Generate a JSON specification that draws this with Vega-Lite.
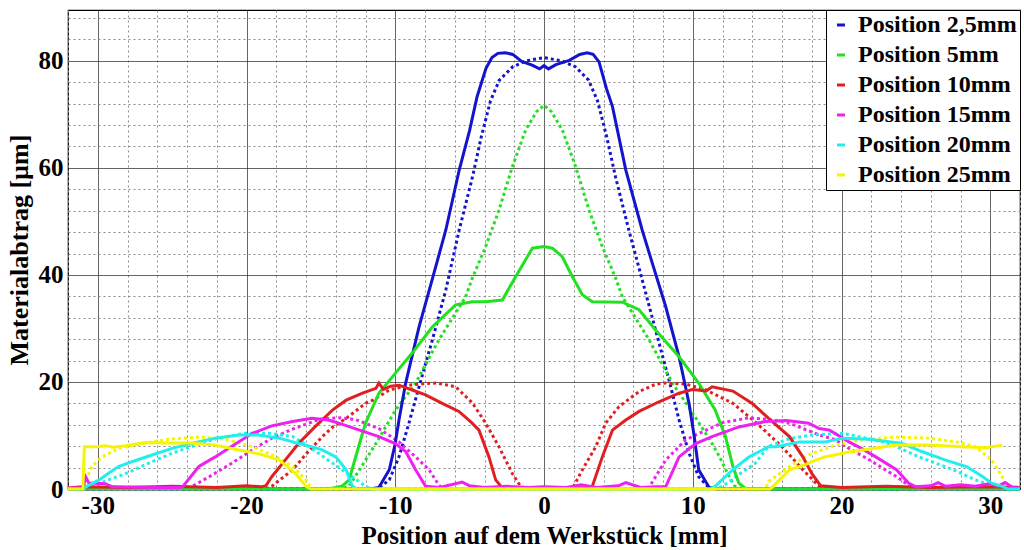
{
"$schema": "https://vega.github.io/schema/vega-lite/v6.json",
"width": 952, "height": 479,
"autosize": "none",
"padding": {"left": 68, "top": 10, "right": 4, "bottom": 61},
"background": "white",
"config": {"view": {"stroke": "#000", "strokeWidth": 1.2}, "font": "Liberation Serif"},
"datasets": {
"B_M": [{"x":-32,"y":0},{"x":-11.7,"y":0},{"x":-11.1,"y":0.3},{"x":-10.4,"y":3.6},{"x":-10,"y":8.5},{"x":-9.75,"y":12.9},{"x":-9.3,"y":19.8},{"x":-8.4,"y":30.3},{"x":-7.5,"y":39.3},{"x":-6.6,"y":48.4},{"x":-5.7,"y":59.6},{"x":-5,"y":67},{"x":-4.5,"y":73.3},{"x":-3.9,"y":78.6},{"x":-3.5,"y":80.6},{"x":-3.1,"y":81.4},{"x":-2.6,"y":81.5},{"x":-2.1,"y":81.2},{"x":-1.5,"y":79.9},{"x":-0.8,"y":79.2},{"x":-0.3,"y":78.5},{"x":0,"y":79.1},{"x":0.3,"y":78.5},{"x":0.8,"y":79.3},{"x":1.7,"y":80.1},{"x":2.4,"y":81.2},{"x":2.9,"y":81.5},{"x":3.3,"y":81.2},{"x":3.7,"y":79.8},{"x":4.2,"y":74.8},{"x":4.6,"y":71.5},{"x":5.5,"y":59.6},{"x":6.6,"y":48.4},{"x":7.28,"y":42.2},{"x":8.18,"y":34.1},{"x":9.08,"y":24.7},{"x":9.75,"y":16},{"x":10.1,"y":9.8},{"x":10.4,"y":3.6},{"x":11.1,"y":0.3},{"x":11.6,"y":0},{"x":32,"y":0}],
"B_S": [{"x":-32,"y":0},{"x":-11.4,"y":0},{"x":-11.1,"y":0.2},{"x":-10.4,"y":1.7},{"x":-9.75,"y":6},{"x":-9.08,"y":12.3},{"x":-8.4,"y":19.1},{"x":-7.5,"y":27.9},{"x":-6.6,"y":37.2},{"x":-5.7,"y":48.4},{"x":-4.8,"y":58.4},{"x":-4.2,"y":66},{"x":-3.6,"y":72.5},{"x":-3,"y":76.4},{"x":-2.1,"y":78.9},{"x":-1.2,"y":80},{"x":0,"y":80.6},{"x":1.2,"y":80},{"x":2.1,"y":78.9},{"x":3,"y":76.4},{"x":3.6,"y":72.5},{"x":4.2,"y":66},{"x":4.8,"y":58.4},{"x":5.7,"y":48.4},{"x":6.6,"y":39.1},{"x":7.5,"y":29.7},{"x":8.4,"y":20.4},{"x":9.08,"y":12.9},{"x":9.75,"y":6.7},{"x":10.4,"y":2.3},{"x":11.1,"y":0.2},{"x":11.4,"y":0},{"x":32,"y":0}],
"G_M": [{"x":-32,"y":0},{"x":-14.5,"y":0},{"x":-13.6,"y":0.5},{"x":-13.1,"y":1.7},{"x":-12.4,"y":8.5},{"x":-12,"y":12.3},{"x":-11.1,"y":17.9},{"x":-10,"y":21.6},{"x":-8.86,"y":25.4},{"x":-7.5,"y":30.3},{"x":-5.94,"y":34.4},{"x":-4.82,"y":35},{"x":-3.92,"y":35},{"x":-2.8,"y":35.3},{"x":-1.9,"y":39.7},{"x":-0.78,"y":45},{"x":0,"y":45.3},{"x":0.56,"y":45},{"x":1.23,"y":43.4},{"x":1.9,"y":39.7},{"x":2.58,"y":36.3},{"x":3.25,"y":35},{"x":5.27,"y":34.9},{"x":6.39,"y":33.5},{"x":7.5,"y":29.7},{"x":9.08,"y":24.7},{"x":10.4,"y":19.8},{"x":11.5,"y":14.8},{"x":12.2,"y":9.8},{"x":12.7,"y":4.2},{"x":13.1,"y":1.1},{"x":13.6,"y":0},{"x":32,"y":0}],
"G_S": [{"x":-32,"y":0},{"x":-13.6,"y":0},{"x":-13.1,"y":0.6},{"x":-12.4,"y":3.6},{"x":-11.3,"y":8.5},{"x":-9.97,"y":14.8},{"x":-8.63,"y":19.8},{"x":-7.06,"y":27.9},{"x":-5.27,"y":35.9},{"x":-4.82,"y":39.4},{"x":-3.92,"y":45.3},{"x":-3.03,"y":52.1},{"x":-2.13,"y":60.2},{"x":-1.23,"y":67.1},{"x":-0.5,"y":70.5},{"x":0,"y":71.7},{"x":0.5,"y":70.5},{"x":1.23,"y":67.1},{"x":2.13,"y":60.2},{"x":3.03,"y":52.1},{"x":3.92,"y":45.3},{"x":4.82,"y":39.4},{"x":5.27,"y":35.9},{"x":7.06,"y":27.9},{"x":8.63,"y":19.8},{"x":9.97,"y":14.3},{"x":11.3,"y":8.5},{"x":11.8,"y":6},{"x":12.4,"y":2.6},{"x":12.8,"y":0.6},{"x":13.3,"y":0},{"x":32,"y":0}],
"R_M": [{"x":-32,"y":0.2},{"x":-31,"y":0.4},{"x":-28,"y":0.3},{"x":-25,"y":0.5},{"x":-22,"y":0.3},{"x":-20,"y":0.6},{"x":-19,"y":0.4},{"x":-18.7,"y":0.6},{"x":-18.3,"y":2.3},{"x":-17.4,"y":5.4},{"x":-16.5,"y":8.5},{"x":-15.4,"y":11.6},{"x":-14.2,"y":14.8},{"x":-13.3,"y":16.6},{"x":-12.2,"y":17.9},{"x":-11.3,"y":18.8},{"x":-11.1,"y":19.8},{"x":-10.8,"y":18.6},{"x":-10.3,"y":19.2},{"x":-9.75,"y":19.4},{"x":-8.86,"y":18.5},{"x":-7.96,"y":17.6},{"x":-6.84,"y":16},{"x":-5.72,"y":14.5},{"x":-4.9,"y":12.5},{"x":-4.37,"y":11},{"x":-3.7,"y":6},{"x":-3.25,"y":1.7},{"x":-2.8,"y":0.2},{"x":-2,"y":0.3},{"x":0,"y":0.2},{"x":2,"y":0.3},{"x":2.8,"y":0.2},{"x":3.25,"y":0.5},{"x":3.92,"y":6},{"x":4.6,"y":11},{"x":5.5,"y":12.9},{"x":6.39,"y":14.5},{"x":7.73,"y":16.3},{"x":9.08,"y":17.9},{"x":9.97,"y":18.6},{"x":10.9,"y":18.3},{"x":11.3,"y":19.1},{"x":12.7,"y":18.3},{"x":14,"y":16},{"x":15.1,"y":13.2},{"x":16.5,"y":9.8},{"x":17.4,"y":6},{"x":18,"y":2.9},{"x":18.6,"y":0.6},{"x":20,"y":0.3},{"x":23,"y":0.5},{"x":26,"y":0.3},{"x":29,"y":0.4},{"x":32,"y":0.3}],
"R_S": [{"x":-32,"y":0},{"x":-18.7,"y":0},{"x":-18.3,"y":0.5},{"x":-16.9,"y":3.6},{"x":-16,"y":6.5},{"x":-14.9,"y":9.8},{"x":-14.2,"y":11.6},{"x":-13.3,"y":13.2},{"x":-12,"y":16},{"x":-11.5,"y":16.6},{"x":-10.4,"y":18.5},{"x":-9.08,"y":19.4},{"x":-7.96,"y":19.7},{"x":-7.2,"y":19.8},{"x":-5.94,"y":19.1},{"x":-4.82,"y":16.1},{"x":-3.92,"y":12.3},{"x":-3.03,"y":7.9},{"x":-2.13,"y":2.9},{"x":-1.46,"y":0},{"x":1.9,"y":0},{"x":2.58,"y":3.6},{"x":3.48,"y":7.9},{"x":4.15,"y":12.3},{"x":5.04,"y":15.4},{"x":6.39,"y":18.2},{"x":7.5,"y":19.6},{"x":8.18,"y":19.8},{"x":9.53,"y":19.6},{"x":10.9,"y":18.5},{"x":12.7,"y":16},{"x":14.3,"y":12.3},{"x":16,"y":7.9},{"x":17.4,"y":3.6},{"x":18.5,"y":0.5},{"x":19,"y":0},{"x":32,"y":0}],
"M_M": [{"x":-32,"y":0.2},{"x":-31,"y":0.2},{"x":-30.8,"y":2.2},{"x":-30.6,"y":1.1},{"x":-29.5,"y":1},{"x":-29,"y":0.4},{"x":-26,"y":0.3},{"x":-24.5,"y":0.3},{"x":-24.3,"y":0.4},{"x":-23.2,"y":4.2},{"x":-22.1,"y":6},{"x":-20.7,"y":8.5},{"x":-19.6,"y":10.4},{"x":-18.3,"y":11.8},{"x":-16.9,"y":12.6},{"x":-15.6,"y":13.2},{"x":-14.5,"y":12.9},{"x":-13.8,"y":12.3},{"x":-12.4,"y":11},{"x":-11.1,"y":9.8},{"x":-10,"y":8.5},{"x":-9.3,"y":7},{"x":-8.63,"y":3.6},{"x":-7.96,"y":0.5},{"x":-7,"y":0.3},{"x":-5.5,"y":1.3},{"x":-5,"y":0.6},{"x":-4,"y":0.3},{"x":-2.5,"y":0.5},{"x":-1,"y":0.3},{"x":0,"y":0.4},{"x":1.5,"y":0.3},{"x":2.5,"y":0.8},{"x":3.5,"y":0.3},{"x":5,"y":0.6},{"x":5.5,"y":1.2},{"x":6.5,"y":0.3},{"x":7.5,"y":0.4},{"x":8.18,"y":0.4},{"x":9.08,"y":6},{"x":10.2,"y":8.5},{"x":11.3,"y":9.8},{"x":13.1,"y":11.6},{"x":14.9,"y":12.6},{"x":16.3,"y":12.8},{"x":17.8,"y":12.3},{"x":18.5,"y":11.3},{"x":19.2,"y":11},{"x":20.5,"y":8.8},{"x":21.4,"y":7.5},{"x":22.3,"y":6},{"x":23.7,"y":3.6},{"x":24.5,"y":1.1},{"x":25,"y":0.4},{"x":26,"y":0.6},{"x":26.5,"y":1.2},{"x":27,"y":0.5},{"x":28,"y":0.8},{"x":29,"y":0.5},{"x":30,"y":1},{"x":30.5,"y":0.5},{"x":31,"y":1.2},{"x":31.5,"y":0.3},{"x":32,"y":0.2}],
"M_S": [{"x":-32,"y":0},{"x":-24,"y":0},{"x":-23.7,"y":0.4},{"x":-22.5,"y":2.3},{"x":-21,"y":4.8},{"x":-19.6,"y":7.3},{"x":-18.3,"y":9.5},{"x":-16.9,"y":11.2},{"x":-15.1,"y":13},{"x":-13.8,"y":13.3},{"x":-12.7,"y":13},{"x":-11.1,"y":11.3},{"x":-9.75,"y":8.8},{"x":-8.63,"y":6},{"x":-7.73,"y":3.6},{"x":-7.06,"y":0.7},{"x":-6.8,"y":0},{"x":6.9,"y":0},{"x":7.06,"y":0.3},{"x":8.18,"y":5.4},{"x":9.53,"y":9.2},{"x":10.9,"y":11},{"x":12,"y":12.4},{"x":13.8,"y":13.3},{"x":15.1,"y":13},{"x":16.5,"y":12.3},{"x":18.5,"y":10.1},{"x":19.6,"y":9.2},{"x":20.3,"y":7.9},{"x":21.9,"y":5.4},{"x":23.7,"y":2.3},{"x":24.7,"y":0.3},{"x":25,"y":0},{"x":32,"y":0}],
"C_M": [{"x":-32,"y":0},{"x":-31,"y":0},{"x":-30.8,"y":0.4},{"x":-29.9,"y":1.7},{"x":-29.3,"y":2.9},{"x":-28.6,"y":4.2},{"x":-27.7,"y":5.1},{"x":-26.3,"y":6.4},{"x":-25,"y":7.6},{"x":-23.7,"y":8.5},{"x":-22.1,"y":9.5},{"x":-20.5,"y":10.1},{"x":-19.2,"y":10.1},{"x":-17.8,"y":9.5},{"x":-16.5,"y":8.5},{"x":-16,"y":8.2},{"x":-14.9,"y":7.3},{"x":-14,"y":6},{"x":-13.3,"y":3.6},{"x":-12.9,"y":0.6},{"x":-12.6,"y":0},{"x":11.2,"y":0},{"x":11.5,"y":0.5},{"x":12.7,"y":3.6},{"x":13.8,"y":6},{"x":15.1,"y":7.9},{"x":15.6,"y":7.9},{"x":17.2,"y":8.8},{"x":18.9,"y":8.8},{"x":20.1,"y":9.5},{"x":21.9,"y":9.3},{"x":24.1,"y":8.5},{"x":25.4,"y":7},{"x":27,"y":5.4},{"x":28.4,"y":4.2},{"x":29.5,"y":2.3},{"x":30.1,"y":1.1},{"x":30.8,"y":0.5},{"x":31.2,"y":0},{"x":32,"y":0}],
"C_S": [{"x":-32,"y":0},{"x":-30.8,"y":0},{"x":-30.4,"y":0.4},{"x":-29.3,"y":1.7},{"x":-28.1,"y":2.9},{"x":-26.6,"y":4.8},{"x":-25,"y":6.7},{"x":-23.4,"y":8.2},{"x":-21.9,"y":9.5},{"x":-20.1,"y":10.4},{"x":-18.5,"y":10.4},{"x":-16.9,"y":9.8},{"x":-16,"y":8.3},{"x":-14.2,"y":4.8},{"x":-12.9,"y":2.3},{"x":-12,"y":0.5},{"x":-11.6,"y":0},{"x":11.6,"y":0},{"x":12,"y":0.5},{"x":12.9,"y":2.3},{"x":14.2,"y":4.8},{"x":15.1,"y":8},{"x":16.5,"y":9.4},{"x":18,"y":10.1},{"x":20.1,"y":10.4},{"x":21.5,"y":9.6},{"x":23.2,"y":8.5},{"x":25.2,"y":6},{"x":27.5,"y":3.6},{"x":29,"y":1.7},{"x":30.4,"y":0.4},{"x":30.8,"y":0},{"x":32,"y":0}],
"Y_M": [{"x":-32,"y":0},{"x":-31,"y":0},{"x":-30.9,"y":7.9},{"x":-30,"y":7.9},{"x":-29.5,"y":8.1},{"x":-29,"y":7.8},{"x":-28.1,"y":8.1},{"x":-26.8,"y":8.7},{"x":-25.2,"y":8.6},{"x":-23.7,"y":8.6},{"x":-22.1,"y":8.2},{"x":-20.5,"y":7.3},{"x":-19.2,"y":6.6},{"x":-17.8,"y":5.4},{"x":-17.4,"y":4.5},{"x":-16.7,"y":2.9},{"x":-16,"y":0.5},{"x":-15.7,"y":0},{"x":15.2,"y":0},{"x":15.4,"y":0.5},{"x":16.5,"y":3.6},{"x":17.6,"y":4.6},{"x":18,"y":5.1},{"x":18.9,"y":6},{"x":19.6,"y":6.4},{"x":20.5,"y":6.9},{"x":21.4,"y":7.3},{"x":23.7,"y":8.2},{"x":25.9,"y":8.2},{"x":28.1,"y":7.9},{"x":29.7,"y":7.7},{"x":30.8,"y":8.2}],
"Y_S": [{"x":-32,"y":0},{"x":-31,"y":0},{"x":-30.8,"y":1.7},{"x":-30.4,"y":4.2},{"x":-29.7,"y":6},{"x":-28.6,"y":7.6},{"x":-27,"y":8.5},{"x":-25.2,"y":9.3},{"x":-23.2,"y":9.7},{"x":-21.4,"y":9.3},{"x":-19.6,"y":7.9},{"x":-18,"y":6},{"x":-16.9,"y":4.2},{"x":-16,"y":1.7},{"x":-15.6,"y":0},{"x":14.9,"y":0},{"x":15.1,"y":1.4},{"x":16.5,"y":4.2},{"x":17.8,"y":6.4},{"x":19.6,"y":8.2},{"x":21.4,"y":9.2},{"x":23.7,"y":9.7},{"x":25.9,"y":9.5},{"x":27.7,"y":8.8},{"x":29,"y":7.9},{"x":30.1,"y":5.4},{"x":30.8,"y":2.3},{"x":31,"y":0.5},{"x":31.2,"y":0},{"x":32,"y":0}]
},
"encoding": {
  "x": {"field": "x", "type": "quantitative", "scale": {"domain": [-32, 32], "nice": false, "zero": false},
    "axis": {"values": [-32,-30,-28,-26,-24,-22,-20,-18,-16,-14,-12,-10,-8,-6,-4,-2,0,2,4,6,8,10,12,14,16,18,20,22,24,26,28,30,32],
      "labelExpr": "datum.value % 10 === 0 ? '' + datum.value : ''", "labelOverlap": false, "labelFlush": false,
      "labelFont": "Liberation Serif", "labelFontSize": 25, "labelFontWeight": "bold", "labelColor": "#000", "labelPadding": 4,
      "ticks": false, "domain": false,
      "grid": true,
      "gridColor": {"condition": {"test": "datum.value % 10 === 0", "value": "#333333"}, "value": "#8a8a8a"},
      "gridDash": {"condition": {"test": "datum.value % 10 === 0", "value": [1, 0]}, "value": [2, 3]},
      "gridWidth": 1, "gridOpacity": 1,
      "title": "Position auf dem Werkstück [mm]", "titleFont": "Liberation Serif", "titleFontSize": 25, "titleFontWeight": "bold", "titleColor": "#000", "titlePadding": 5}},
  "y": {"field": "y", "type": "quantitative", "scale": {"domain": [0, 89.5], "nice": false},
    "axis": {"values": [0,4,8,12,16,20,24,28,32,36,40,44,48,52,56,60,64,68,72,76,80,84,88],
      "labelExpr": "datum.value % 20 === 0 ? '' + datum.value : ''", "labelOverlap": false, "labelFlush": false,
      "labelFont": "Liberation Serif", "labelFontSize": 25, "labelFontWeight": "bold", "labelColor": "#000", "labelPadding": 5,
      "ticks": false, "domain": false,
      "grid": true,
      "gridColor": {"condition": {"test": "datum.value % 20 === 0", "value": "#333333"}, "value": "#8a8a8a"},
      "gridDash": {"condition": {"test": "datum.value % 20 === 0", "value": [1, 0]}, "value": [2, 3]},
      "gridWidth": 1, "gridOpacity": 1,
      "title": "Materialabtrag [µm]", "titleFont": "Liberation Serif", "titleFontSize": 26, "titleFontWeight": "bold", "titleColor": "#000", "titlePadding": 6}}
},
"layer": [
{"data": {"name": "B_S"}, "mark": {"type": "line", "strokeWidth": 3, "strokeDash": [3, 3]}, "encoding": {"color": {"datum": "Position 2,5mm"}}},
{"data": {"name": "G_S"}, "mark": {"type": "line", "strokeWidth": 3, "strokeDash": [3, 3]}, "encoding": {"color": {"datum": "Position 5mm"}}},
{"data": {"name": "R_S"}, "mark": {"type": "line", "strokeWidth": 3, "strokeDash": [3, 3]}, "encoding": {"color": {"datum": "Position 10mm"}}},
{"data": {"name": "M_S"}, "mark": {"type": "line", "strokeWidth": 3, "strokeDash": [3, 3]}, "encoding": {"color": {"datum": "Position 15mm"}}},
{"data": {"name": "C_S"}, "mark": {"type": "line", "strokeWidth": 3, "strokeDash": [3, 3]}, "encoding": {"color": {"datum": "Position 20mm"}}},
{"data": {"name": "Y_S"}, "mark": {"type": "line", "strokeWidth": 3, "strokeDash": [3, 3]}, "encoding": {"color": {"datum": "Position 25mm"}}},
{"data": {"name": "B_M"}, "mark": {"type": "line", "strokeWidth": 3}, "encoding": {"color": {"datum": "Position 2,5mm"}}},
{"data": {"name": "G_M"}, "mark": {"type": "line", "strokeWidth": 3}, "encoding": {"color": {"datum": "Position 5mm"}}},
{"data": {"name": "R_M"}, "mark": {"type": "line", "strokeWidth": 3}, "encoding": {"color": {"datum": "Position 10mm"}}},
{"data": {"name": "M_M"}, "mark": {"type": "line", "strokeWidth": 3}, "encoding": {"color": {"datum": "Position 15mm"}}},
{"data": {"name": "C_M"}, "mark": {"type": "line", "strokeWidth": 3}, "encoding": {"color": {"datum": "Position 20mm"}}},
{"data": {"name": "Y_M"}, "mark": {"type": "line", "strokeWidth": 3}, "encoding": {"color": {"datum": "Position 25mm",
  "scale": {"domain": ["Position 2,5mm","Position 5mm","Position 10mm","Position 15mm","Position 20mm","Position 25mm"],
            "range": ["#1414cc","#22e022","#e02020","#ee22ee","#22eeee","#f5f500"]},
  "legend": {"title": null, "orient": "top-right", "offset": 0, "padding": 3, "strokeColor": "#000", "fillColor": "#fff",
    "symbolType": "stroke", "symbolSize": 64, "symbolStrokeWidth": 3, "labelOffset": 5,
    "labelFont": "Liberation Serif", "labelFontSize": 24, "labelFontWeight": "bold", "labelColor": "#000", "labelLimit": 400, "rowPadding": 6}}}}
]
}
